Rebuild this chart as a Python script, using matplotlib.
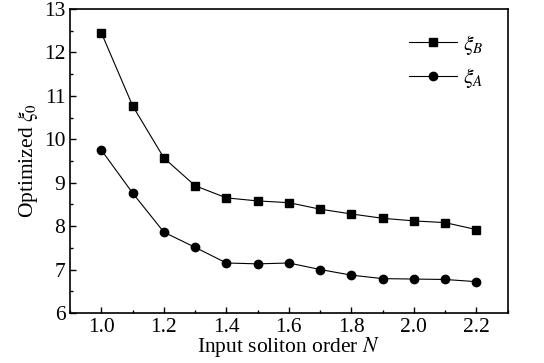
import matplotlib.pyplot as plt
from matplotlib.ticker import MultipleLocator

plt.rcParams["font.family"] = ["Liberation Serif", "DejaVu Serif"]
plt.rcParams["mathtext.fontset"] = "stix"

# Input soliton order and optimized xi values
order_n = [1.0, 1.1, 1.2, 1.3, 1.4, 1.5, 1.6, 1.7, 1.8, 1.9, 2.0, 2.1, 2.2]
xi_b = [12.45, 10.77, 9.57, 8.93, 8.65, 8.58, 8.54, 8.39, 8.28, 8.18, 8.12, 8.08, 7.92]
xi_a = [9.75, 8.76, 7.86, 7.51, 7.15, 7.13, 7.15, 7.00, 6.87, 6.79, 6.78, 6.77, 6.72]

fig, ax = plt.subplots(figsize=(5.44, 3.63), dpi=100)
fig.subplots_adjust(left=0.129, right=0.933, top=0.975, bottom=0.138)

ax.plot(order_n, xi_b, color="black", linewidth=0.8, marker="s", markersize=5.5,
        label=r"$\xi_B$")
ax.plot(order_n, xi_a, color="black", linewidth=0.8, marker="o", markersize=6,
        label=r"$\xi_A$")

ax.set_xlim(0.9, 2.3)
ax.set_ylim(6, 13)
ax.xaxis.set_major_locator(MultipleLocator(0.2))
ax.xaxis.set_minor_locator(MultipleLocator(0.1))
ax.yaxis.set_major_locator(MultipleLocator(1))
ax.yaxis.set_minor_locator(MultipleLocator(0.5))
ax.xaxis.set_major_formatter(plt.FormatStrFormatter("%.1f"))
ax.tick_params(which="both", direction="in", labelsize=15.5)
ax.tick_params(which="major", length=4, width=1)
ax.tick_params(which="minor", length=2.5, width=1)
for spine in ax.spines.values():
    spine.set_linewidth(1.2)

ax.set_xlabel(r"Input soliton order $N$", fontsize=15.5, labelpad=-1)
ax.set_ylabel(r"Optimized $\xi_0$", fontsize=15.5, labelpad=3)

ax.legend(loc="upper right", frameon=False, fontsize=15.5, handlelength=2.2,
          handletextpad=0.3, labelspacing=0.45, borderaxespad=0.7)

fig.savefig("out.png")
